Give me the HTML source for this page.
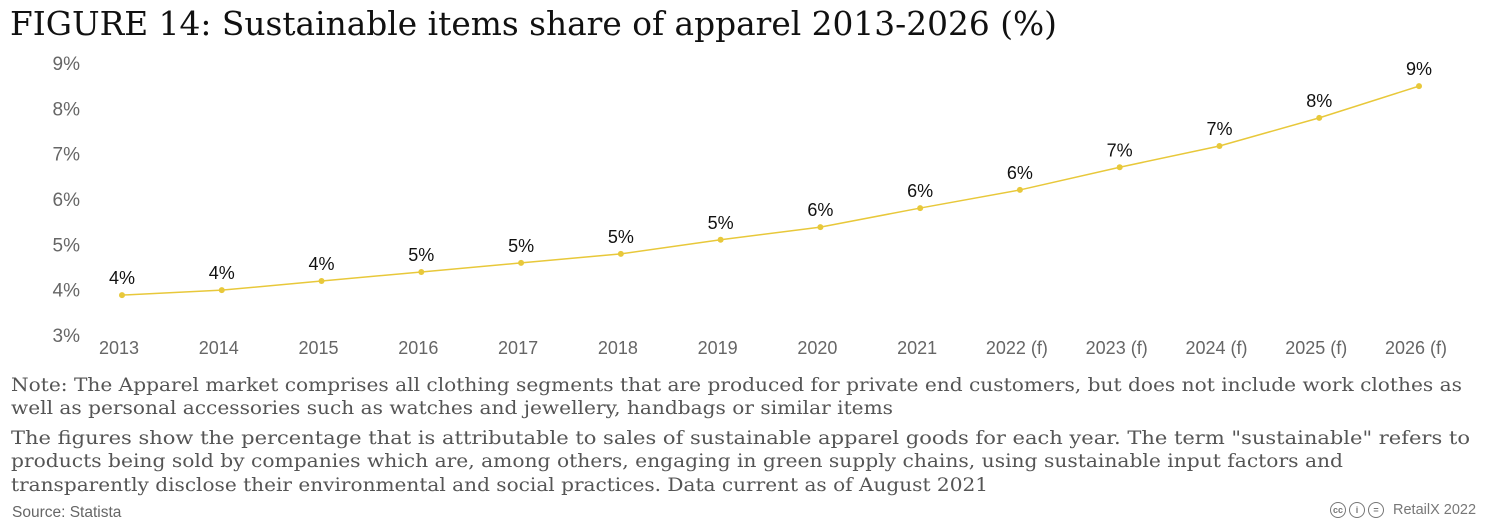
<!DOCTYPE html>
<html><head><meta charset="utf-8">
<style>
body{margin:0;background:#fff;width:1491px;height:532px;overflow:hidden;position:relative;font-family:"Liberation Sans",sans-serif}
#title{position:absolute;left:10px;top:4px;font-family:"DejaVu Serif",serif;font-size:33px;color:#111;white-space:nowrap;transform-origin:0 0}
.nl{position:absolute;left:11px;font-family:"DejaVu Serif",serif;font-size:19px;line-height:23px;color:#555;white-space:nowrap;transform-origin:0 0}
#src{position:absolute;left:12px;top:504px;font-size:15.5px;color:#666}
#credit{position:absolute;left:1330px;top:502px;font-size:14.5px;color:#777;display:flex;align-items:center;gap:3px}
.cc{width:16px;height:16px;border:1.6px solid #777;border-radius:50%;font-size:9px;display:inline-flex;align-items:center;justify-content:center;box-sizing:border-box;font-weight:bold}
</style></head><body>
<div id="title" data-w="1047">FIGURE 14: Sustainable items share of apparel 2013-2026 (%)</div>
<svg id="chart" width="1491" height="370" style="position:absolute;left:0;top:0"></svg>
<div>
<div class="nl" style="top:374px" data-w="1451">Note: The Apparel market comprises all clothing segments that are produced for private end customers, but does not include work clothes as</div>
<div class="nl" style="top:397px" data-w="882">well as personal accessories such as watches and jewellery, handbags or similar items</div>
<div class="nl" style="top:427px" data-w="1459">The figures show the percentage that is attributable to sales of sustainable apparel goods for each year. The term "sustainable" refers to</div>
<div class="nl" style="top:450px" data-w="1332">products being sold by companies which are, among others, engaging in green supply chains, using sustainable input factors and</div>
<div class="nl" style="top:474px" data-w="977">transparently disclose their environmental and social practices. Data current as of August 2021</div>
</div>
<div id="src">Source: Statista</div>
<div id="credit"><span class="cc">cc</span><span class="cc">i</span><span class="cc">=</span><span style="margin-left:6px">RetailX 2022</span></div>
<script>
document.querySelectorAll('[data-w]').forEach(el=>{const w=el.getBoundingClientRect().width;el.style.transform='scaleX('+(+el.dataset.w/w)+')';});
const categories=["2013","2014","2015","2016","2017","2018","2019","2020","2021","2022 (f)","2023 (f)","2024 (f)","2025 (f)","2026 (f)"];
const values=[3.88,3.99,4.19,4.39,4.59,4.79,5.1,5.38,5.8,6.2,6.7,7.17,7.79,8.49];
const labels=["4%","4%","4%","5%","5%","5%","5%","6%","6%","6%","7%","7%","8%","9%"];
const yTicks=[3,4,5,6,7,8,9];
const svg=document.getElementById('chart');
const NS='http://www.w3.org/2000/svg';
const x=i=>122+i*(1419-122)/(categories.length-1);
const y=v=>335-(v-3)*(335-63)/6;
function mk(t,a){const e=document.createElementNS(NS,t);for(const k in a)e.setAttribute(k,a[k]);svg.appendChild(e);return e;}
yTicks.forEach(t=>{const e=mk('text',{x:80,y:y(t)+7,'text-anchor':'end','font-size':19,fill:'#666','font-family':'Liberation Sans'});e.textContent=t+'%';

});
categories.forEach((c,i)=>{const e=mk('text',{x:x(i)-3,y:354,'text-anchor':'middle','font-size':18,fill:'#666','font-family':'Liberation Sans'});e.textContent=c;

});
const line=mk('polyline',{points:values.map((v,i)=>x(i)+','+y(v)).join(' '),fill:'none',stroke:'#e8c83a','stroke-width':1.5});


values.forEach((v,i)=>{const p=mk('circle',{cx:x(i),cy:y(v),r:3,fill:'#e8c83a'});


const t=mk('text',{x:x(i),y:y(v)-11,'text-anchor':'middle','font-size':18,fill:'#111','font-family':'Liberation Sans'});t.textContent=labels[i];

});
</script>
</body></html>
